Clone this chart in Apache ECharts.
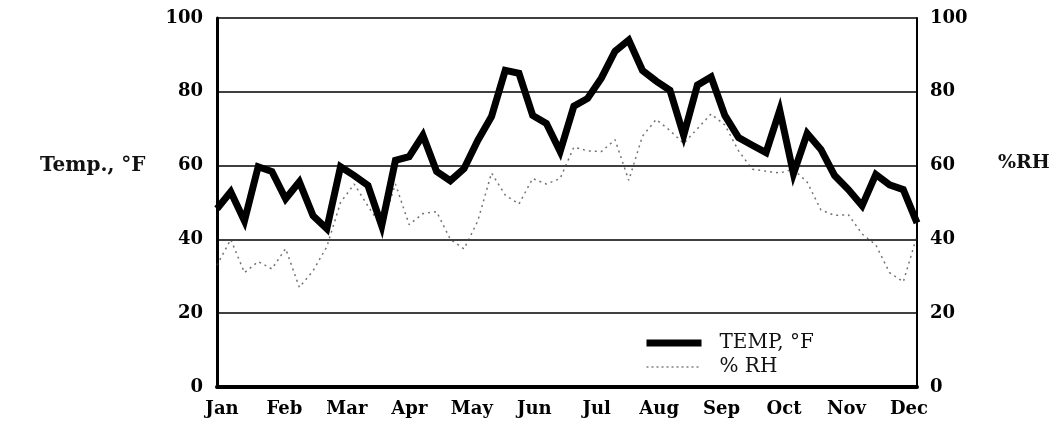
<!DOCTYPE html>
<html><head><meta charset="utf-8">
<script src="https://cdn.jsdelivr.net/npm/echarts@6/dist/echarts.min.js"></script>
<style>html,body{margin:0;padding:0;background:#fff}#c{width:1061px;height:433px}</style>
</head><body><div id="c"></div>
<script>
const months = ['Jan','Feb','Mar','Apr','May','Jun','Jul','Aug','Sep','Oct','Nov','Dec'];
const weekLabels = Array.from({length: 52}, (_, i) => 'W' + (i + 1));
const tempF = [48.3,52.9,45.0,59.7,58.4,51.0,55.6,46.4,42.9,59.7,57.3,54.6,43.7,61.4,62.4,68.2,58.4,55.9,59.2,66.8,73.3,85.8,85.0,73.6,71.4,63.8,76.1,78.2,83.7,91.0,94.0,85.8,82.9,80.4,68.2,81.8,84.0,73.6,67.6,65.5,63.5,75.0,57.8,68.7,64.4,57.3,53.5,49.1,57.6,54.8,53.5,44.5];
const rhPct = [33,40,31,34,32,37.5,27,31.5,38,50,55,49,43.4,55,44,47,47.5,40,37.4,45,58,52,49.6,56.5,55,56.5,65,64,63.8,67,56,68,72.5,69.5,66,70,74,71,64,59,58.5,58,59,55.5,48,46.5,46.7,41.5,38.5,31,28.5,41];
const seriesNames = ['TEMP, °F', '% RH'];
const leftTitle = 'Temp., °F';
const rightTitle = '%RH';

const serif = 'DejaVu Serif';
const chart = echarts.init(document.getElementById('c'));
chart.setOption({
  animation: false,
  backgroundColor: '#fff',
  grid: [
    {left: 217, right: 144, top: 18, bottom: 46},
    {left: 222, right: 152, top: 18, bottom: 46, show: false}
  ],
  xAxis: [
    {type: 'category', gridIndex: 0, data: weekLabels, boundaryGap: false,
     axisLine: {show: true, lineStyle: {color: '#000', width: 4}},
     axisTick: {show: false}, axisLabel: {show: false}, splitLine: {show: false}},
    {type: 'category', gridIndex: 1, data: months, boundaryGap: false,
     axisLine: {show: false}, axisTick: {show: false},
     axisLabel: {margin: 13, fontFamily: serif, fontWeight: 'bold', fontSize: 18, color: '#000', interval: 0}}
  ],
  yAxis: [
    {type: 'value', gridIndex: 0, min: 0, max: 100, interval: 20, position: 'left',
     axisLine: {show: true, lineStyle: {color: '#000', width: 3}},
     axisTick: {show: false},
     axisLabel: {margin: 14, fontFamily: serif, fontWeight: 'bold', fontSize: 18, color: '#000'},
     splitLine: {show: true, lineStyle: {color: '#000', width: 1.5}}},
    {type: 'value', gridIndex: 0, min: 0, max: 100, interval: 20, position: 'right',
     axisLine: {show: true, lineStyle: {color: '#000', width: 2}},
     axisTick: {show: false},
     axisLabel: {margin: 13, fontFamily: serif, fontWeight: 'bold', fontSize: 18, color: '#000'},
     splitLine: {show: false}},
    {type: 'value', gridIndex: 1, show: false, min: 0, max: 100}
  ],
  legend: {
    orient: 'vertical', left: 638, top: 328, itemGap: 4,
    itemWidth: 55, itemHeight: 14, symbolKeepAspect: false,
    itemStyle: {opacity: 0},
    textStyle: {fontFamily: serif, fontSize: 20, color: '#111', padding: [0, 0, 0, 13]},
    data: [
      {name: seriesNames[0], lineStyle: {width: 7, color: '#000'}},
      {name: seriesNames[1], lineStyle: {width: 1.5, color: '#555', type: [2, 3]}}
    ]
  },
  graphic: [
    {type: 'text', left: 40, top: 156, style: {text: leftTitle, font: 'bold 20px "DejaVu Serif"', fill: '#111'}},
    {type: 'text', left: 998, top: 154, style: {text: rightTitle, font: 'bold 19px "DejaVu Serif"', fill: '#111'}}
  ],
  series: [
    {name: seriesNames[1], type: 'line', xAxisIndex: 0, yAxisIndex: 1, data: rhPct,
     symbol: 'none', smooth: false, z: 2,
     lineStyle: {color: '#444', width: 1.5, type: [2, 4], opacity: 0.75}},
    {name: seriesNames[0], type: 'line', xAxisIndex: 0, yAxisIndex: 0, data: tempF,
     symbol: 'none', smooth: false, z: 3,
     lineStyle: {color: '#000', width: 7, join: 'miter', miterLimit: 4}}
  ]
});
</script></body></html>
